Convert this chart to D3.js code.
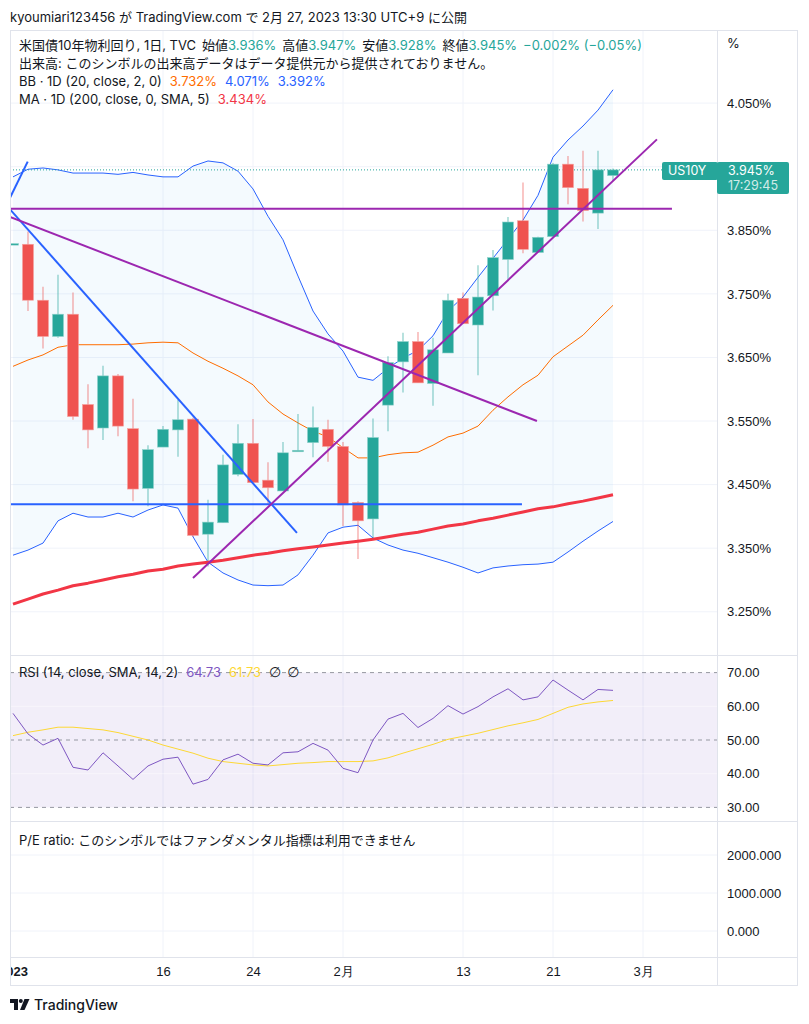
<!DOCTYPE html>
<html>
<head>
<meta charset="utf-8">
<script src="https://cdn.jsdelivr.net/npm/d3@7"></script>
<style>
  body { margin: 0; background: #fff; }
  svg { display: block; font-family: "Inter", "Noto Sans CJK JP", sans-serif; }
</style>
</head>
<body>
<svg id="chart"></svg>
<script>
// US10Y daily, Jan 2 .. Feb 27 2023 (weekdays)
var dates = ["01-02","01-03","01-04","01-05","01-06","01-09","01-10","01-11","01-12","01-13",
  "01-16","01-17","01-18","01-19","01-20","01-23","01-24","01-25","01-26","01-27",
  "01-30","01-31","02-01","02-02","02-03","02-06","02-07","02-08","02-09","02-10",
  "02-13","02-14","02-15","02-16","02-17","02-20","02-21","02-22","02-23","02-24","02-27"];

var opens  = [3.828,3.828,3.740,3.683,3.718,3.576,3.539,3.621,3.538,3.444,
  3.509,3.536,3.553,3.372,3.390,3.466,3.515,3.457,3.440,3.503,
  3.516,3.537,3.510,3.422,3.396,3.575,3.643,3.675,3.609,3.657,
  3.743,3.701,3.747,3.804,3.865,3.815,3.840,3.954,3.916,3.877,3.936];
var highs  = [3.829,3.848,3.761,3.780,3.752,3.608,3.637,3.624,3.585,3.512,
  3.542,3.583,3.555,3.426,3.497,3.545,3.553,3.485,3.517,3.561,
  3.573,3.552,3.517,3.424,3.554,3.652,3.689,3.690,3.681,3.750,
  3.752,3.795,3.819,3.871,3.925,3.840,3.956,3.967,3.975,3.975,3.947];
var lows   = [3.827,3.723,3.664,3.681,3.552,3.507,3.520,3.526,3.424,3.416,
  3.509,3.494,3.368,3.321,3.390,3.463,3.453,3.420,3.440,3.503,
  3.493,3.486,3.385,3.333,3.366,3.534,3.595,3.610,3.574,3.657,
  3.703,3.622,3.724,3.772,3.814,3.815,3.840,3.891,3.864,3.852,3.928];
var closes = [3.829,3.740,3.683,3.718,3.557,3.536,3.621,3.542,3.443,3.505,
  3.537,3.552,3.370,3.391,3.481,3.515,3.453,3.445,3.500,3.504,
  3.540,3.510,3.418,3.393,3.524,3.642,3.675,3.610,3.662,3.740,
  3.703,3.745,3.807,3.863,3.820,3.839,3.954,3.917,3.881,3.945,3.945];

// Bollinger bands (20, 2)
var bbUpper = [3.934,3.946,3.948,3.945,3.940,3.940,3.940,3.938,3.941,3.937,
  3.934,3.934,3.951,3.959,3.956,3.943,3.915,3.872,3.835,3.778,
  3.723,3.687,3.660,3.619,3.614,3.633,3.649,3.661,3.684,3.723,
  3.745,3.776,3.806,3.836,3.866,3.905,3.965,3.992,4.014,4.039,4.071];
var bbBasis = [3.636,3.646,3.654,3.666,3.670,3.670,3.670,3.670,3.671,3.673,
  3.674,3.673,3.657,3.644,3.633,3.621,3.607,3.580,3.561,3.547,
  3.534,3.525,3.508,3.492,3.492,3.497,3.500,3.501,3.512,3.525,
  3.531,3.542,3.567,3.588,3.607,3.622,3.651,3.668,3.685,3.709,3.732];
var bbLower = [3.339,3.347,3.358,3.393,3.405,3.399,3.399,3.405,3.399,3.410,
  3.418,3.413,3.368,3.328,3.311,3.300,3.292,3.291,3.292,3.308,
  3.339,3.374,3.383,3.386,3.366,3.355,3.347,3.342,3.335,3.328,
  3.320,3.311,3.319,3.322,3.324,3.325,3.328,3.344,3.361,3.377,3.392];

// MA 200
var ma200 = [3.262,3.270,3.278,3.284,3.291,3.295,3.300,3.305,3.309,3.314,
  3.317,3.322,3.325,3.328,3.331,3.335,3.339,3.342,3.346,3.349,
  3.352,3.355,3.358,3.361,3.364,3.368,3.372,3.375,3.380,3.385,
  3.388,3.393,3.397,3.402,3.407,3.412,3.415,3.420,3.424,3.429,3.434];

// RSI 14 and its SMA 14
var rsi = [57.9,51.8,48.5,50.5,41.9,41.1,46.2,42.3,38.3,42.3,
  44.3,44.9,36.9,38.3,44.1,45.8,43.1,42.6,46.2,46.5,
  49.0,47.0,41.6,40.3,50.0,56.2,57.9,53.7,56.4,60.2,
  57.7,59.9,62.8,65.2,61.9,62.8,67.8,64.8,61.9,65.0,64.73];
var rsiMa = [51.3,52.3,53.0,53.8,53.8,53.4,53.0,52.2,51.1,50.0,
  48.5,47.3,46.1,44.6,43.6,43.1,42.6,42.3,42.7,43.1,
  43.3,43.6,43.6,43.6,43.8,44.7,46.1,47.4,48.7,50.2,
  51.1,52.0,53.1,54.2,55.1,56.1,57.9,59.7,60.7,61.3,61.73];

// hand drawn trend lines: [bar index, price] pairs
var blueLines = [
  [[-0.2, 3.901], [0.98, 3.958]],
  [[-0.2, 3.883], [18.93, 3.374]],
  [[-0.2, 3.419], [33.93, 3.419]]
];
var purpleLines = [
  [[-0.2, 3.884], [43.93, 3.884]],
  [[-0.2, 3.871], [34.93, 3.550]],
  [[12.0, 3.303], [42.93, 3.993]]
];

var priceGrid = [3.25, 3.35, 3.45, 3.55, 3.65, 3.75, 3.85, 3.95, 4.05];
var priceTicks = [3.25, 3.35, 3.45, 3.55, 3.65, 3.75, 3.85, 4.05];
var rsiTicks = [30, 40, 50, 60, 70];
var rsiBands = [30, 50, 70];
var peTicks = [0, 1000, 2000];
var timeTickIndex = [0, 10, 16, 22, 30, 36, 42];
var timeTickLabels = ["2023", "16", "24", "2月", "13", "21", "3月"];

(function(){

  var W = 809, H = 1024;
  var left = 10, right = 717, axisRight = 798;
  var mainTop = 30, mainBottom = 655, rsiBottom = 821, peBottom = 957, timeBottom = 986;

  var up = '#26a69a', down = '#ef5350', border = '#e0e3eb', grid = '#f0f3fa', ink = '#131722';

  var svg = d3.select('#chart').attr('width', W).attr('height', H);
  svg.append('rect').attr('width', W).attr('height', H).attr('fill', '#fff');

  var x = d3.scaleLinear().domain([0, 47]).range([13, 13 + 15 * 47]);
  var y = d3.scaleLinear().domain([3.182, 4.165]).range([mainBottom, mainTop]);
  var yr = d3.scaleLinear().domain([30, 70]).range([807.4, 672.6]);
  var yp = d3.scaleLinear().domain([-684, 2895]).range([peBottom, rsiBottom]);

  var idx = d3.range(dates.length);

  var defs = svg.append('defs');
  defs.append('clipPath').attr('id', 'clipMain').append('rect')
    .attr('x', left).attr('y', mainTop).attr('width', right - left).attr('height', mainBottom - mainTop);
  defs.append('clipPath').attr('id', 'clipAll').append('rect')
    .attr('x', left).attr('y', 0).attr('width', axisRight - left).attr('height', H);

  // grid
  var gridG = svg.append('g');
  gridG.selectAll('.vg').data(timeTickIndex.filter(function(d){ return d > 0; })).enter().append('line')
    .attr('x1', function(d){ return x(d); }).attr('x2', function(d){ return x(d); })
    .attr('y1', mainTop).attr('y2', peBottom).attr('stroke', grid);
  gridG.selectAll('.hg').data(priceGrid).enter().append('line')
    .attr('x1', left).attr('x2', right)
    .attr('y1', function(d){ return y(d); }).attr('y2', function(d){ return y(d); })
    .attr('stroke', grid);
  gridG.selectAll('.pg').data(peTicks).enter().append('line')
    .attr('x1', left).attr('x2', right)
    .attr('y1', function(d){ return yp(d); }).attr('y2', function(d){ return yp(d); })
    .attr('stroke', grid);

  // main pane
  var main = svg.append('g').attr('clip-path', 'url(#clipMain)');

  main.append('path').datum(idx)
    .attr('d', d3.area()
      .x(function(i){ return x(i); })
      .y0(function(i){ return y(bbLower[i]); })
      .y1(function(i){ return y(bbUpper[i]); }))
    .attr('fill', 'rgba(33,150,243,0.05)');

  function seriesLine(arr, color, width) {
    main.append('path').datum(idx)
      .attr('d', d3.line().x(function(i){ return x(i); }).y(function(i){ return y(arr[i]); }))
      .attr('fill', 'none').attr('stroke', color).attr('stroke-width', width)
      .attr('stroke-linejoin', 'round');
  }
  seriesLine(bbUpper, '#2962ff', 1);
  seriesLine(bbLower, '#2962ff', 1);
  seriesLine(bbBasis, '#ff6d00', 1);

  // last price dotted line
  main.append('line')
    .attr('x1', left).attr('x2', right)
    .attr('y1', y(closes[closes.length - 1])).attr('y2', y(closes[closes.length - 1]))
    .attr('stroke', up).attr('stroke-dasharray', '1,2');

  // candles
  var candles = main.selectAll('.candle').data(idx).enter().append('g');
  candles.append('line')
    .attr('x1', function(i){ return x(i); }).attr('x2', function(i){ return x(i); })
    .attr('y1', function(i){ return y(highs[i]); }).attr('y2', function(i){ return y(lows[i]); })
    .attr('stroke', function(i){ return closes[i] >= opens[i] ? up : down; })
    .attr('stroke-opacity', 0.55).attr('stroke-width', 1.2);
  candles.append('rect')
    .attr('x', function(i){ return x(i) - 5.5; })
    .attr('width', 11)
    .attr('y', function(i){ return y(Math.max(opens[i], closes[i])); })
    .attr('height', function(i){ return Math.max(1.5, Math.abs(y(opens[i]) - y(closes[i]))); })
    .attr('fill', function(i){ return closes[i] >= opens[i] ? up : down; })
    .attr('stroke', function(i){ return closes[i] >= opens[i] ? '#8fd2cb' : '#f5a3a1'; })
    .attr('stroke-width', 0.6);

  seriesLine(ma200, '#f23645', 3);

  function trend(lines, color) {
    main.selectAll(null).data(lines).enter().append('line')
      .attr('x1', function(d){ return x(d[0][0]); }).attr('y1', function(d){ return y(d[0][1]); })
      .attr('x2', function(d){ return x(d[1][0]); }).attr('y2', function(d){ return y(d[1][1]); })
      .attr('stroke', color).attr('stroke-width', 2);
  }
  trend(blueLines, '#2962ff');
  trend(purpleLines, '#9c27b0');

  // rsi pane
  var rsiG = svg.append('g');
  rsiG.append('rect')
    .attr('x', left).attr('width', right - left)
    .attr('y', yr(70)).attr('height', yr(30) - yr(70))
    .attr('fill', 'rgba(126,87,194,0.1)');
  rsiG.selectAll('.rg').data([40, 60]).enter().append('line')
    .attr('x1', left).attr('x2', right)
    .attr('y1', function(d){ return yr(d); }).attr('y2', function(d){ return yr(d); })
    .attr('stroke', 'rgba(255,255,255,0.45)');
  rsiG.selectAll('.rb').data(rsiBands).enter().append('line')
    .attr('x1', left).attr('x2', right)
    .attr('y1', function(d){ return yr(d); }).attr('y2', function(d){ return yr(d); })
    .attr('stroke', '#9598a1').attr('stroke-dasharray', '4,4');
  rsiG.append('path').datum(idx)
    .attr('d', d3.line().x(function(i){ return x(i); }).y(function(i){ return yr(rsiMa[i]); }))
    .attr('fill', 'none').attr('stroke', '#fdd835').attr('stroke-width', 1);
  rsiG.append('path').datum(idx)
    .attr('d', d3.line().x(function(i){ return x(i); }).y(function(i){ return yr(rsi[i]); }))
    .attr('fill', 'none').attr('stroke', '#7e57c2').attr('stroke-width', 1);

  // axes
  var fmtPrice = function(d){ return d.toFixed(3) + '%'; };
  function styleAxis(g) {
    g.select('.domain').remove();
    g.selectAll('text').attr('fill', ink).style('font-size', '13px');
  }
  svg.append('g').attr('transform', 'translate(' + right + ',0)')
    .call(d3.axisRight(y).tickValues(priceTicks).tickFormat(fmtPrice).tickSize(0).tickPadding(10))
    .call(styleAxis);
  svg.append('g').attr('transform', 'translate(' + right + ',0)')
    .call(d3.axisRight(yr).tickValues(rsiTicks).tickFormat(function(d){ return d.toFixed(2); }).tickSize(0).tickPadding(10))
    .call(styleAxis);
  svg.append('g').attr('transform', 'translate(' + right + ',0)')
    .call(d3.axisRight(yp).tickValues(peTicks).tickFormat(function(d){ return d.toFixed(3); }).tickSize(0).tickPadding(10))
    .call(styleAxis);
  svg.append('g').attr('transform', 'translate(0,' + peBottom + ')')
    .attr('clip-path', 'url(#clipAll)')
    .call(d3.axisBottom(x).tickValues(timeTickIndex)
      .tickFormat(function(d, i){ return timeTickLabels[i]; }).tickSize(0).tickPadding(10))
    .call(styleAxis)
    .selectAll('text').attr('font-weight', function(d, i){ return i === 0 ? 'bold' : null; });

  svg.append('text').attr('x', 727).attr('y', 48).attr('fill', ink)
    .style('font-size', '13px').text('%');

  // frame lines
  var frame = svg.append('g').attr('stroke', border).attr('fill', 'none');
  frame.append('rect').attr('x', left + 0.5).attr('y', mainTop + 0.5)
    .attr('width', axisRight - left - 1).attr('height', timeBottom - mainTop - 1);
  [mainBottom, rsiBottom, peBottom].forEach(function(v){
    frame.append('line').attr('x1', left).attr('x2', axisRight).attr('y1', v + 0.5).attr('y2', v + 0.5);
  });
  frame.append('line').attr('x1', right + 0.5).attr('x2', right + 0.5).attr('y1', mainTop).attr('y2', timeBottom);

  // last price label
  var last = closes[closes.length - 1], ly = y(last);
  svg.append('rect').attr('x', 662).attr('y', ly - 8).attr('width', 56).attr('height', 18)
    .attr('rx', 2).attr('fill', up);
  svg.append('text').attr('x', 668).attr('y', ly + 5.5).attr('fill', '#fff')
    .style('font-size', '12.5px').text('US10Y');
  svg.append('rect').attr('x', right).attr('y', ly - 8).attr('width', 72).attr('height', 32)
    .attr('rx', 2).attr('fill', up);
  svg.append('text').attr('x', 728).attr('y', ly + 5.5).attr('fill', '#fff')
    .style('font-size', '12.5px').text(last.toFixed(3) + '%');
  svg.append('text').attr('x', 728).attr('y', ly + 20).attr('fill', 'rgba(255,255,255,0.8)')
    .style('font-size', '12.5px').text('17:29:45');

  // titles / legends
  svg.append('text').attr('x', 10).attr('y', 22).attr('fill', ink)
    .style('font-size', '13px')
    .text('kyoumiari123456 が TradingView.com で 2月 27, 2023 13:30 UTC+9 に公開');

  function legend(yPos, parts) {
    var t = svg.append('text').attr('x', 19).attr('y', yPos).style('font-size', '13px');
    parts.forEach(function(p){
      var s = t.append('tspan').attr('fill', p[1] || ink).attr('dx', p[2] || 0).text(p[0]);
      if (p[3]) s.style('font-family', p[3]).style('font-size', '14px');
    });
  }
  legend(50, [['米国債10年物利回り, 1日, TVC'], ['始値', ink, 6], ['3.936%', up],
    ['高値', ink, 6], ['3.947%', up], ['安値', ink, 6], ['3.928%', up],
    ['終値', ink, 6], ['3.945%', up], ['−0.002% (−0.05%)', up, 6]]);
  legend(68, [['出来高: このシンボルの出来高データはデータ提供元から提供されておりません。']]);
  legend(86, [['BB · 1D (20, close, 2, 0)'], [bbBasis[bbBasis.length - 1].toFixed(3) + '%', '#ff6d00', 8],
    [bbUpper[bbUpper.length - 1].toFixed(3) + '%', '#2962ff', 8],
    [bbLower[bbLower.length - 1].toFixed(3) + '%', '#2962ff', 8]]);
  legend(104, [['MA · 1D (200, close, 0, SMA, 5)'], [ma200[ma200.length - 1].toFixed(3) + '%', '#f23645', 8]]);
  legend(677, [['RSI (14, close, SMA, 14, 2)'], [rsi[rsi.length - 1].toFixed(2), '#7e57c2', 8],
    [rsiMa[rsiMa.length - 1].toFixed(2), '#fdd835', 8],
    ['∅', ink, 8, 'DejaVu Sans'], ['∅', ink, 6, 'DejaVu Sans']]);
  legend(845, [['P/E ratio: このシンボルではファンダメンタル指標は利用できません']]);

  // footer logo
  var logo = svg.append('g').attr('fill', ink);
  logo.append('path').attr('d', 'M10,999h8v11h-4v-7h-4z');
  logo.append('circle').attr('cx', 20.8).attr('cy', 1001).attr('r', 2);
  logo.append('path').attr('d', 'M24.5,999h5l-5,11h-4.5z');
  svg.append('text').attr('x', 34).attr('y', 1010).attr('fill', ink)
    .style('font-size', '14px').style('font-weight', 500).text('TradingView');

})();
</script>
</body>
</html>
